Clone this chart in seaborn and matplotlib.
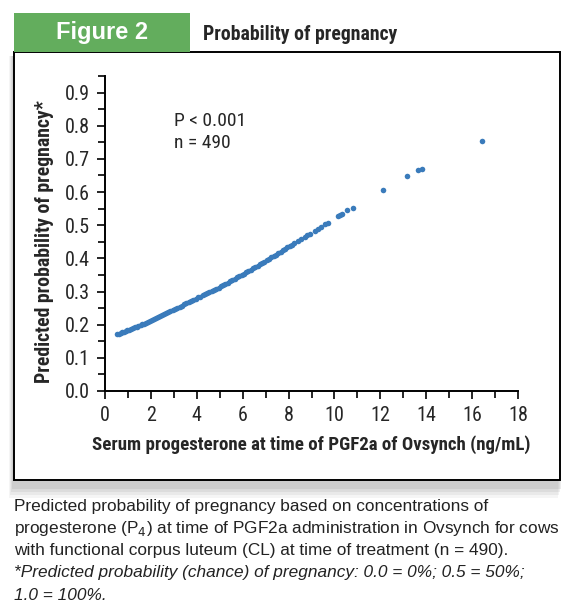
import matplotlib
matplotlib.use("Agg")
import seaborn as sns
from matplotlib import pyplot as plt
from matplotlib.patches import Rectangle
from matplotlib.ticker import MultipleLocator

# serum P4 at PGF2a (ng/mL) vs predicted probability of pregnancy
p4 = [0.52, 0.60, 0.68, 0.75, 0.83, 0.90, 0.98, 1.05, 1.12, 1.20, 1.30, 1.38, 1.45,
      1.55, 1.62, 1.70, 1.80, 1.88, 1.95, 2.05, 2.15, 2.22, 2.30, 2.40, 2.50, 2.58,
      2.66, 2.75, 2.85, 2.95, 3.05, 3.15, 3.25, 3.35, 3.45, 3.55, 3.65, 3.75, 3.85,
      3.95, 4.05, 4.15, 4.25, 4.35, 4.45, 4.55, 4.65, 4.75, 4.85, 4.95, 5.05, 5.15,
      5.25, 5.35, 5.45, 5.55, 5.65, 5.75, 5.85, 5.95, 6.05, 6.15, 6.25, 6.35, 6.45,
      6.55, 6.65, 6.75, 6.85, 6.95, 7.05, 7.15, 7.25, 7.35, 7.45, 7.55, 7.65, 7.75,
      7.85, 7.95, 8.05, 8.15, 8.25, 8.40, 8.55, 8.70, 8.80, 8.95, 9.15, 9.30, 9.40,
      9.60, 9.70, 10.15, 10.25, 10.35, 10.55, 10.80, 12.10, 13.15, 13.65, 13.80, 16.45]
prob = [0.171, 0.173, 0.175, 0.177, 0.179, 0.181, 0.183, 0.184, 0.186, 0.189, 0.192,
        0.194, 0.196, 0.199, 0.201, 0.203, 0.206, 0.209, 0.211, 0.214, 0.217, 0.219,
        0.222, 0.225, 0.229, 0.231, 0.234, 0.237, 0.240, 0.243, 0.247, 0.250, 0.254,
        0.257, 0.261, 0.264, 0.268, 0.271, 0.275, 0.278, 0.282, 0.285, 0.289, 0.292,
        0.295, 0.299, 0.302, 0.306, 0.309, 0.312, 0.316, 0.320, 0.324, 0.327, 0.331,
        0.335, 0.339, 0.343, 0.346, 0.350, 0.354, 0.358, 0.362, 0.366, 0.370, 0.374,
        0.378, 0.382, 0.386, 0.390, 0.394, 0.398, 0.403, 0.407, 0.411, 0.416, 0.420,
        0.424, 0.429, 0.433, 0.437, 0.441, 0.446, 0.452, 0.458, 0.464, 0.469, 0.475,
        0.483, 0.490, 0.494, 0.503, 0.507, 0.527, 0.531, 0.535, 0.545, 0.553, 0.605,
        0.647, 0.666, 0.670, 0.755]
yticks = [0.0, 0.1, 0.2, 0.3, 0.4, 0.5, 0.6, 0.7, 0.8, 0.9]

sns.set_style("white")
plt.rcParams["font.family"] = ["Roboto Condensed", "DejaVu Sans"]
plain = ["Liberation Sans", "DejaVu Sans"]

W, H = 575, 610
fig = plt.figure(figsize=(W / 100, H / 100), dpi=100)

def px(x, y, w, h):
    # pixel box (top-left origin) -> figure fraction
    return (x / W, 1 - (y + h) / H, w / W, h / H)

def box(x, y, w, h, z, **kw):
    fx, fy, fw, fh = px(x, y, w, h)
    fig.patches.append(Rectangle((fx, fy), fw, fh, transform=fig.transFigure,
                                 zorder=z, **kw))

# soft shadow behind the frame
for i, a in enumerate([0.08, 0.10, 0.12, 0.15]):
    d = 4 - i
    box(9 + i, 56, 549, 430 + 3 * d, -3, color="#808080", alpha=a, lw=0)
box(14, 52, 546, 428, -2, facecolor="white", edgecolor="black", lw=1.4)
box(14, 13, 176, 39, -2, facecolor="#63ad5d", edgecolor="none")

fig.text(102 / W, 1 - 33 / H, "Figure 2", color="white", fontsize=17,
         fontweight="bold", family=plain, ha="center", va="center")
fig.text(203 / W, 1 - 34 / H, "Probability of pregnancy", fontsize=14.2,
         fontweight="bold", ha="left", va="center")

ax = fig.add_axes([105 / W, 1 - 391 / H, 413 / W, 315 / H])
ax.set_zorder(2)
ax.set_facecolor("none")
sns.scatterplot(x=p4, y=prob, ax=ax, color="#3a7bbb", s=16, linewidth=0)

ax.set_xlim(0, 18)
ax.set_ylim(0, 0.95)
ax.xaxis.set_major_locator(MultipleLocator(2))
ax.xaxis.set_minor_locator(MultipleLocator(1))
ax.yaxis.set_minor_locator(MultipleLocator(0.05))
ax.set_yticks(yticks)
ax.set_yticklabels([f"{v:.1f}" for v in yticks])
ax.tick_params(which="both", direction="out", length=6, width=1.2, color="black",
               labelsize=14.5, bottom=True, left=True, pad=5)
ax.tick_params(which="minor", length=5)
ax.spines[["right", "top"]].set_visible(False)
for s in ["left", "bottom"]:
    ax.spines[s].set_color("black")
    ax.spines[s].set_linewidth(1.4)

ax.set_xlabel("Serum progesterone at time of PGF2a of Ovsynch (ng/mL)",
              fontsize=13.6, fontweight="bold", labelpad=7)
ax.set_ylabel("Predicted probability of pregnancy*", fontsize=14.2,
              fontweight="bold")
ax.yaxis.set_label_coords(-0.124, 0.475)

ax.text(3.0, 0.815, "P < 0.001", fontsize=14, va="center")
ax.text(3.0, 0.749, "n = 490", fontsize=14, va="center")

cap = ["Predicted probability of pregnancy based on concentrations of",
       "progesterone (P$_4$) at time of PGF2a administration in Ovsynch for cows",
       "with functional corpus luteum (CL) at time of treatment (n = 490)."]
for i, line in enumerate(cap):
    fig.text(14 / W, 1 - (507 + 22 * i) / H, line, fontsize=12.4, color="#222222",
             family=plain, va="center")
cap_it = ["*Predicted probability (chance) of pregnancy: 0.0 = 0%; 0.5 = 50%;",
          "1.0 = 100%."]
for i, line in enumerate(cap_it):
    fig.text(14 / W, 1 - (573 + 22 * i) / H, line, fontsize=12.4, color="#222222",
             style="italic", family=plain, va="center")

fig.savefig("out.png", dpi=100)
